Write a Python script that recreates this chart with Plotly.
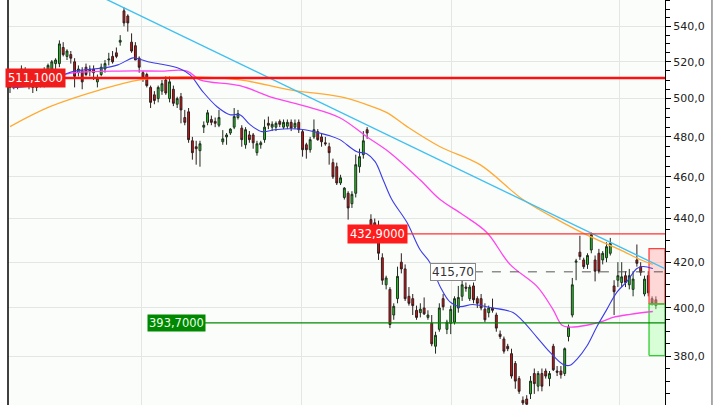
import math
import plotly.graph_objects as go

# ---- candle data (index based, daily bars) ----
opens = [506,508,507,512,515,510,511,506,510,508,
         515,516,519,519,528,523,524,520,514,515,
         517,515,516,509,513,516,521,523,525,531,
         549,546,531,529,522,514,513,506,502,500,
         504,510,500,505,497,501,490,493,478,475,
         473,485,487.5,489,488,486,477.5,480,482,485,
         490,484.5,476,481,481,472,476,478.6,487,485,
         485,488,485,485.5,487.5,485,487.5,482.7,476,473.5,
         480,482.7,480,477,475,467,465,457,450,452,
         447,452,465,471,483.7,439.5,438,436.5,422,410,
         408,397,404,420,417,405,404,399,398,400,
         396,393.5,384,391,404,391,393.5,394,400,405,
         409,404,409.5,404,404,399.5,398,400,397,389,
         387,384,381,377,371,362.5,363,365,373,368,
         373,374,371,384,374,374,373,388,397,420,
         424.5,421,419,425.5,421,424,421,422,424,409.5,
         412,411,414,410,408,421,418,406,414,404,403.5]
highs = [510,512,514,518,517,513,514,512,513,517,
         519,521,522,532,531,527,526,522,518,517,
         519,518,518,513,519,521,525,526,528,535,
         551,547,536,531,523,515,514,507,504,507,
         510,512,512,507,501,503,494,495,480,478,
         478,488,494,491,490,494,483.5,482,484.5,495,
         494,486,485,483,482,478,478,489,490.5,488,
         488,489,489,489,489,489,489,484,477,480,
         489,484,482,480,477,469,467,461,455,453,
         453,471,474,483,485,442,440,439,424,414,
         409,402,418,424,419,409,406,401,402,404.5,
         399,397,390,402,406,395,401,405,409.5,417,
         411,410,411,405,406,402,401,404,398,390.5,
         388,385,383,378,372,364,364.5,372,375,374,
         375,375,374,385,376,376,383.5,393,413,421.5,
         432,422,424,433.5,423,426,425,429,431,412,
         420,420,416,417,416,428,420,414,416,405,405]
lows = [503,505,505,509,508,505,503,504,506,506,
        510,513,515,517,523,521,519,506,512,505,
        512,512,510,506,512,514,518,519,522,529,
        540,537,525,521,514,509,506,495,497,498,
        502,502,498,496,495,487,486,477,468.5,466,
        465,482,486,486,485,485,476,476,481,484,
        489,475,474,477,474,470.5,474,477,484,483,
        483,485,484,484,483,484,482,470,469,472,
        479,478,475,475.5,466,459,456,456,449,439.5,
        445,450,462,469,479,433,433,421,410,408,
        391.5,395,402,415,403,401,397,395,396,397,
        395,384,381,390,399,389,389,393,398,403,
        407,403,402,400,399,394,396,398,390,387,
        381,382,371,367,365,360,360,363,365,366,
        366,371,368,374,372,371,372,386,396,412,
        421,417,417,424,411.5,415,419,420,423,397,
        409,409,409,408,405,418,414,405,405,401,399.5]
closes = [508,507,512,516,510,511,506,510,508,515,
          518,520,521,530,524,526,522,512,516,509,
          513,516,514,511,517,519,521.5,520,523,532,
          542,542,526,521,517,511,507,498,499,506,
          508,503,509,497.5,500,494,487.5,478.6,472,474,
          476.5,486,492.5,487.5,487,490,479,481,484,490.5,
          492,478.6,483.7,478.6,477,476.5,477,485,486,486.5,
          487,486.5,487.5,487.5,484.5,487,483.7,473.5,473.5,478.6,
          483.7,478.6,477.5,476.5,472,460,457,459.5,454.5,445,
          451.5,466,470,478,482,436,435,424,412,413,
          393,400.7,413.7,417,404,402,401,396,399.5,397.5,
          397,385,388.5,400,400.5,394,399.4,404,404.5,410,
          408.5,409,403.5,402,400,395,400,399,391.5,388,
          382,383,372,370,366,361.5,361,370,369,373,
          368,372,373,374.5,373.5,372.5,383,392,410,420.5,
          422.5,418,423,432.5,416,416,424,427,428.5,407,
          414,413.5,411,414,412.5,419.5,415.5,412.5,406.5,402,401]
bar_index = list(range(len(opens)))

# ---- moving averages (bar index, price) ----
ma_fast_x = [0.5,7.4,16.3,19.7,25,28.4,32.4,33.7,36.3,39.5,44.7,47.4,50.8,54.5,57.9,60.5,
             63.2,66.3,69.7,73.7,77.6,81.1,84.2,86.8,91.3,93.9,96.1,98.2,100.5,104.5,107.9,
             110.5,113.2,115.8,118.4,121.8,126.3,132.4,135,138.7,142.1,145.5,147.4,149.2,
             151.8,154.5,157.1,159.7,162.4,165,166.6,169.2]
ma_fast_y = [505.8,507.4,514.5,515.6,516.7,518.3,522.2,521.7,520.0,518.8,516.2,512.8,503.6,495.7,
             491.5,491.5,486.3,482.7,483.7,484.2,483.7,482.1,480.6,478.6,472.5,471.5,467.5,458.6,
             449.0,438.1,425.7,419.9,409.3,402.6,400.6,401.5,400.2,398.1,394.4,387.7,381.6,376.7,
             376.3,378.7,384.0,392.2,399.4,406.7,411.5,417.2,418.1,417.2]
ma_mid_x = [13.2,18.4,28.9,39.5,46.6,50,60.5,69.2,78.2,86.8,93.9,100,107.9,113.2,119.2,125.5,
            131.6,138.7,142.9,145.3,147.4,151.8,156.1,158.7,163.2,169.2]
ma_mid_y = [512.7,514.3,514.9,514.9,514.9,510.1,506.9,500.5,495.7,489.9,480.1,472.0,458.6,449.0,
            441.8,433.5,419.0,409.3,399.4,392.7,391.9,392.7,394.4,396.0,397.3,398.5]
ma_slow_x = [0,10.5,23.7,34.2,45.5,60.5,73.7,86.8,93.9,99.2,104.5,113.2,123.7,135,145.5,152.6,
             160.5,165.8,169.2]
ma_slow_y = [485.3,495.7,504.7,510.1,511.7,510.1,504.7,501.0,496.8,492.6,485.3,475.0,466.0,449.0,
             438.1,431.7,425.7,421.2,419.0]

trend_x = [22.5, 172.4]
trend_y = [558.9, 417.1]

resistance_high = 511.1
resistance_low = 432.9
support = 393.7
last_price = 415.70
box_x = [168.2, 172.4]
box_top = 426.1
box_mid = 401.7
box_bottom = 380.2

tick_vals = [360, 380, 400, 420, 440, 460, 480, 500, 520, 540]
tick_text = ["360,0", "380,0", "400,0", "420,0", "440,0", "460,0", "480,0", "500,0", "520,0", "540,0"]
minor_vals = [v for v in range(360, 556, 5)]
vgrid = [34.7, 76.8, 116.1, 160.3]

X_MIN, X_MAX = -0.53, 172.4
FONT = "DejaVu Sans"

fig = go.Figure()

# target boxes
fig.add_trace(go.Scatter(x=[box_x[0], box_x[1], box_x[1], box_x[0], box_x[0]],
                         y=[box_mid, box_mid, box_top, box_top, box_mid],
                         fill="toself", fillcolor="rgba(255,170,170,0.45)",
                         line=dict(color="#ff4040", width=1.3), mode="lines",
                         hoverinfo="skip", showlegend=False))
fig.add_trace(go.Scatter(x=[box_x[0], box_x[1], box_x[1], box_x[0], box_x[0]],
                         y=[box_bottom, box_bottom, box_mid, box_mid, box_bottom],
                         fill="toself", fillcolor="rgba(170,255,170,0.45)",
                         line=dict(color="#33cc33", width=1.3), mode="lines",
                         hoverinfo="skip", showlegend=False))

fig.add_trace(go.Candlestick(
    x=bar_index, open=opens, high=highs, low=lows, close=closes,
    increasing=dict(fillcolor="#22cc22", line=dict(color="#1e2e1e", width=1)),
    decreasing=dict(fillcolor="#dd1111", line=dict(color="#2e1e1e", width=1)),
    whiskerwidth=0, showlegend=False, hoverinfo="skip"))

fig.add_trace(go.Scatter(x=ma_slow_x, y=ma_slow_y, mode="lines", line=dict(color="#ffaa33", width=1.3, shape="spline"),
                         hoverinfo="skip", showlegend=False))
fig.add_trace(go.Scatter(x=ma_mid_x, y=ma_mid_y, mode="lines", line=dict(color="#ff44ee", width=1.3, shape="spline"),
                         hoverinfo="skip", showlegend=False))
fig.add_trace(go.Scatter(x=ma_fast_x, y=ma_fast_y, mode="lines", line=dict(color="#3c3ce6", width=1.1, shape="spline"),
                         hoverinfo="skip", showlegend=False))
fig.add_trace(go.Scatter(x=trend_x, y=trend_y, mode="lines", line=dict(color="#40c0f0", width=1.4),
                         hoverinfo="skip", showlegend=False))

# horizontal levels
fig.add_trace(go.Scatter(x=[X_MIN, X_MAX], y=[resistance_high] * 2, mode="lines",
                         line=dict(color="#ff1010", width=2.6), hoverinfo="skip", showlegend=False))
fig.add_trace(go.Scatter(x=[104.2, X_MAX], y=[resistance_low] * 2, mode="lines",
                         line=dict(color="#ff3030", width=1.2), hoverinfo="skip", showlegend=False))
fig.add_trace(go.Scatter(x=[51.3, X_MAX], y=[support] * 2, mode="lines",
                         line=dict(color="#008800", width=1.2), hoverinfo="skip", showlegend=False))
fig.add_trace(go.Scatter(x=[122.1, X_MAX], y=[last_price] * 2, mode="lines",
                         line=dict(color="#555555", width=1, dash="dash"), hoverinfo="skip", showlegend=False))

# invisible trace for minor-tick axis
fig.add_trace(go.Scatter(x=[0], y=[400], yaxis="y2", mode="markers", marker=dict(opacity=0),
                         hoverinfo="skip", showlegend=False))

ann_font = dict(family=FONT, size=11.5, color="white")
fig.add_annotation(x=6.6, y=math.log10(resistance_high), xref="x", yref="y", text="511,1000",
                   showarrow=False, bgcolor="#f01c1c", font=ann_font, borderpad=2)
fig.add_annotation(x=96.8, y=math.log10(resistance_low), xref="x", yref="y", text="432,9000",
                   showarrow=False, bgcolor="#ff1c1c", font=ann_font, borderpad=2)
fig.add_annotation(x=43.7, y=math.log10(support), xref="x", yref="y", text="393,7000",
                   showarrow=False, bgcolor="#008800", font=dict(family=FONT, size=11.5, color="#e8ffe8"), borderpad=1)
fig.add_annotation(x=116.6, y=math.log10(last_price), xref="x", yref="y", text="415,70",
                   showarrow=False, bgcolor="white", bordercolor="#888888", borderwidth=1,
                   font=dict(family=FONT, size=12, color="#333333"), borderpad=1)

yr = [math.log10(360.7), math.log10(555.4)]
fig.update_layout(
    width=720, height=405,
    margin=dict(l=8, r=55, t=0, b=0),
    paper_bgcolor="white", plot_bgcolor="#fbfdfb",
    hovermode=False,
    xaxis=dict(range=[X_MIN, X_MAX], rangeslider=dict(visible=False), tickmode="array", tickvals=vgrid,
               showticklabels=False, ticks="", showgrid=True, gridcolor="#e4e6e4", gridwidth=1,
               zeroline=False, showline=False),
    yaxis=dict(type="log", range=yr, side="right", tickmode="array", tickvals=tick_vals, ticktext=tick_text,
               ticks="outside", ticklen=5, tickcolor="#000", tickwidth=1,
               showline=True, linecolor="#000", linewidth=1, mirror=False,
               showgrid=True, gridcolor="#e4e6e4", gridwidth=1, zeroline=False,
               tickfont=dict(family=FONT, size=11, color="#222")),
    yaxis2=dict(type="log", range=yr, overlaying="y", side="right", tickmode="array", tickvals=minor_vals,
                ticks="outside", ticklen=4, tickcolor="#000", showticklabels=False, showgrid=False,
                zeroline=False, showline=False),
    shapes=[
        dict(type="line", xref="paper", yref="paper", x0=0, x1=0, y0=0, y1=1, line=dict(color="#000", width=1.5)),
        dict(type="line", xref="paper", yref="paper", x0=1.0715, x1=1.0715, y0=0, y1=1, line=dict(color="#555", width=1)),
    ],
)

fig.write_html("out.html", config={"displayModeBar": False, "staticPlot": True},
               post_script="document.body.style.margin='0';document.body.style.overflow='hidden';")
